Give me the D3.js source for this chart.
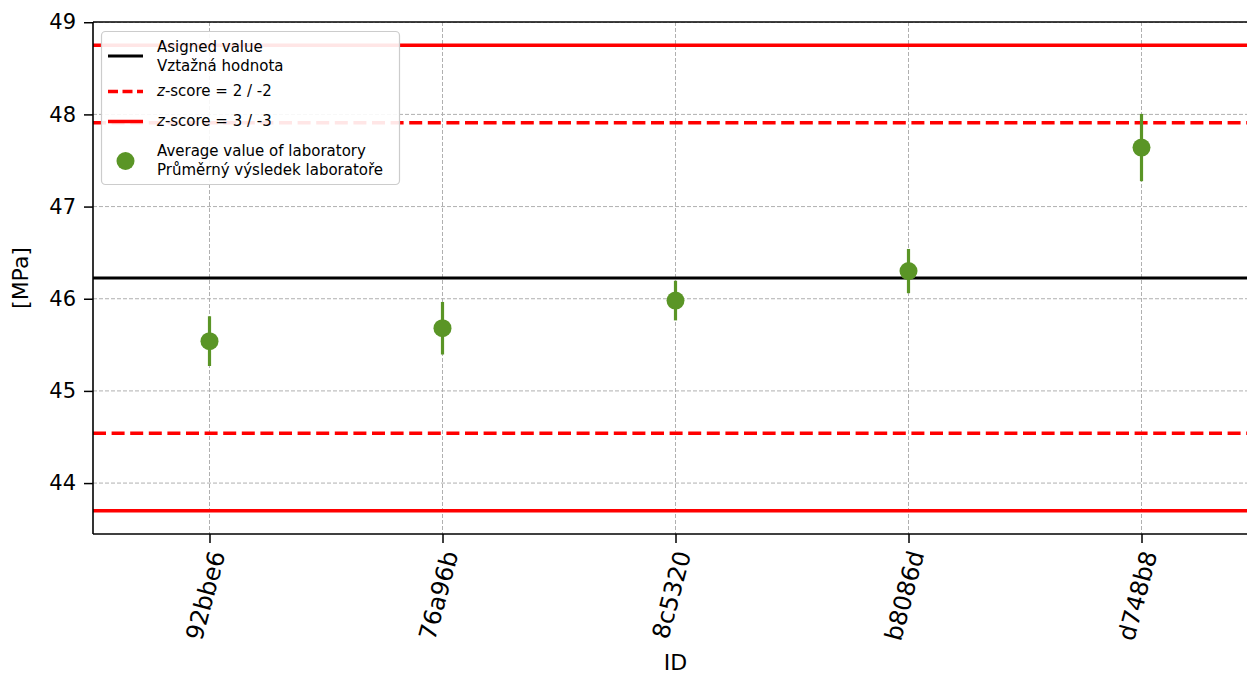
<!DOCTYPE html>
<html>
<head>
<meta charset="utf-8">
<script src="https://cdn.jsdelivr.net/npm/d3@7"></script>
<style>
  html, body { margin: 0; padding: 0; background: #fff; }
  svg { display: block; font-family: "DejaVu Sans", sans-serif; }
</style>
</head>
<body>
<svg id="chart" width="1247" height="675"></svg>
<script>
// ---- data ----
const labIds = ["92bbe6", "76a96b", "8c5320", "b8086d", "d748b8"];
const labMeans = [45.54, 45.68, 45.98, 46.30, 47.64];
const labErrors = [0.27, 0.285, 0.215, 0.24, 0.365];
const assignedValue = 46.225;
const zScore2Lines = [44.54, 47.91];
const zScore3Lines = [43.70, 48.75];
const yTicks = [44, 45, 46, 47, 48, 49];
const legendEntries = [
  { kind: "solid-black", lines: ["Asigned value", "Vztažná hodnota"] },
  { kind: "dashed-red", lines: ["z|-score = 2 / -2"] },
  { kind: "solid-red", lines: ["z|-score = 3 / -3"] },
  { kind: "dot", lines: ["Average value of laboratory", "Průměrný výsledek laboratoře"] }
];

(function () {
// ---- layout ----
const svg = d3.select("#chart");
const pL = 93, pR = 1258, pT = 22, pB = 534;
const green = "#5a9526";
const red = "#ff0000";

const x = d3.scaleLinear().domain([-0.5, labIds.length - 0.5]).range([pL, pR]);
const y = d3.scaleLinear().domain([43.4475, 49.0025]).range([pB, pT]);

const defs = svg.append("defs");
defs.append("clipPath").attr("id", "plotclip")
  .append("rect").attr("x", pL).attr("y", pT).attr("width", pR - pL).attr("height", pB - pT);

const plot = svg.append("g").attr("clip-path", "url(#plotclip)");

// grid
plot.append("g").selectAll("line").data(yTicks).join("line")
  .attr("x1", pL).attr("x2", pR)
  .attr("y1", d => y(d)).attr("y2", d => y(d))
  .attr("stroke", "#b0b0b0").attr("stroke-width", 1).attr("stroke-dasharray", "4,2");
plot.append("g").selectAll("line").data(labIds).join("line")
  .attr("x1", (d, i) => x(i)).attr("x2", (d, i) => x(i))
  .attr("y1", pT).attr("y2", pB)
  .attr("stroke", "#b0b0b0").attr("stroke-width", 1).attr("stroke-dasharray", "4,2");

// reference lines
plot.append("g").selectAll("line").data(zScore3Lines).join("line")
  .attr("x1", pL).attr("x2", pR)
  .attr("y1", d => y(d)).attr("y2", d => y(d))
  .attr("stroke", red).attr("stroke-width", 3.5);
plot.append("g").selectAll("line").data(zScore2Lines).join("line")
  .attr("x1", pL).attr("x2", pR)
  .attr("y1", d => y(d)).attr("y2", d => y(d))
  .attr("stroke", red).attr("stroke-width", 3.5).attr("stroke-dasharray", "13,5.6");
plot.append("line")
  .attr("x1", pL).attr("x2", pR)
  .attr("y1", y(assignedValue)).attr("y2", y(assignedValue))
  .attr("stroke", "#000").attr("stroke-width", 3.2);

// error bars + points
const pts = labIds.map((id, i) => ({ id, i, m: labMeans[i], e: labErrors[i] }));
plot.append("g").selectAll("line").data(pts).join("line")
  .attr("x1", d => x(d.i)).attr("x2", d => x(d.i))
  .attr("y1", d => y(d.m - d.e)).attr("y2", d => y(d.m + d.e))
  .attr("stroke", green).attr("stroke-width", 3.2);
plot.append("g").selectAll("circle").data(pts).join("circle")
  .attr("cx", d => x(d.i)).attr("cy", d => y(d.m)).attr("r", 9)
  .attr("fill", green);

// axes
const yAxis = d3.axisLeft(y).tickValues(yTicks).tickSize(9).tickPadding(8).tickFormat(d3.format("d"));
const gy = svg.append("g").attr("transform", `translate(${pL},0)`).call(yAxis);
gy.select(".domain").remove();
gy.selectAll(".tick line").attr("stroke", "#000").attr("stroke-width", 1.5);
gy.selectAll(".tick text").attr("font-size", 21).attr("fill", "#000")
  .attr("font-family", "DejaVu Sans");

const xAxis = d3.axisBottom(x).tickValues(labIds.map((d, i) => i)).tickSize(9).tickFormat(() => "");
const gx = svg.append("g").attr("transform", `translate(0,${pB})`).call(xAxis);
gx.select(".domain").remove();
gx.selectAll(".tick line").attr("stroke", "#000").attr("stroke-width", 1.5);

// rotated x labels
const angle = 75;
const xfs = 24;
const rad = angle * Math.PI / 180;
const xl = svg.append("g");
labIds.forEach((id, i) => {
  const t = xl.append("text").text(id)
    .attr("font-size", xfs).attr("text-anchor", "middle")
    .attr("fill", "#000");
  const L = t.node().getComputedTextLength();
  const h = xfs * 0.8;
  const H = L * Math.sin(rad) + h * Math.cos(rad);
  const cy = pB + 9 + 6 + H / 2;
  t.attr("dy", "0.35em")
   .attr("transform", `translate(${x(i) - 4},${cy}) rotate(${-angle})`);
});

// spines
svg.append("line").attr("x1", pL).attr("x2", pL).attr("y1", pT).attr("y2", pB)
  .attr("stroke", "#000").attr("stroke-width", 1.6);
svg.append("line").attr("x1", pL).attr("x2", pR).attr("y1", pB).attr("y2", pB)
  .attr("stroke", "#000").attr("stroke-width", 1.6);
svg.append("line").attr("x1", pL).attr("x2", pR).attr("y1", pT).attr("y2", pT)
  .attr("stroke", "#000").attr("stroke-width", 1.6);
svg.append("line").attr("x1", pR).attr("x2", pR).attr("y1", pT).attr("y2", pB)
  .attr("stroke", "#000").attr("stroke-width", 1.6);

// axis labels
svg.append("text").text("ID").attr("x", (pL + pR) / 2).attr("y", 670)
  .attr("text-anchor", "middle").attr("font-size", 22).attr("fill", "#000");
svg.append("text").text("[MPa]")
  .attr("transform", `translate(28,${(pT + pB) / 2}) rotate(-90)`)
  .attr("text-anchor", "middle").attr("font-size", 22).attr("fill", "#000");

// legend
const lg = svg.append("g");
lg.append("rect").attr("x", 101.5).attr("y", 31.5).attr("width", 298).attr("height", 153)
  .attr("rx", 4).attr("fill", "#fff").attr("fill-opacity", 0.9)
  .attr("stroke", "#cccccc").attr("stroke-width", 1.2);
const lfs = 15;
const rows = [
  { handleY: 56, baselines: [52, 71] },
  { handleY: 91.5, baselines: [96] },
  { handleY: 121.5, baselines: [126] },
  { handleY: 161, baselines: [156, 175] }
];
legendEntries.forEach((entry, k) => {
  const r = rows[k];
  if (entry.kind === "solid-black") {
    lg.append("line").attr("x1", 108).attr("x2", 143).attr("y1", r.handleY).attr("y2", r.handleY)
      .attr("stroke", "#000").attr("stroke-width", 3.2);
  } else if (entry.kind === "dashed-red") {
    lg.append("line").attr("x1", 108).attr("x2", 143).attr("y1", r.handleY).attr("y2", r.handleY)
      .attr("stroke", red).attr("stroke-width", 3.5).attr("stroke-dasharray", "10,4.5");
  } else if (entry.kind === "solid-red") {
    lg.append("line").attr("x1", 108).attr("x2", 143).attr("y1", r.handleY).attr("y2", r.handleY)
      .attr("stroke", red).attr("stroke-width", 3.5);
  } else {
    lg.append("circle").attr("cx", 125.5).attr("cy", r.handleY).attr("r", 9).attr("fill", green);
  }
  entry.lines.forEach((ln, j) => {
    const t = lg.append("text").attr("x", 157).attr("y", r.baselines[j])
      .attr("font-size", lfs).attr("fill", "#000");
    if (ln.includes("|")) {
      const [a, b] = ln.split("|");
      t.append("tspan").attr("font-style", "italic").text(a);
      t.append("tspan").text(b);
    } else {
      t.text(ln);
    }
  });
});
})();
</script>
</body>
</html>
